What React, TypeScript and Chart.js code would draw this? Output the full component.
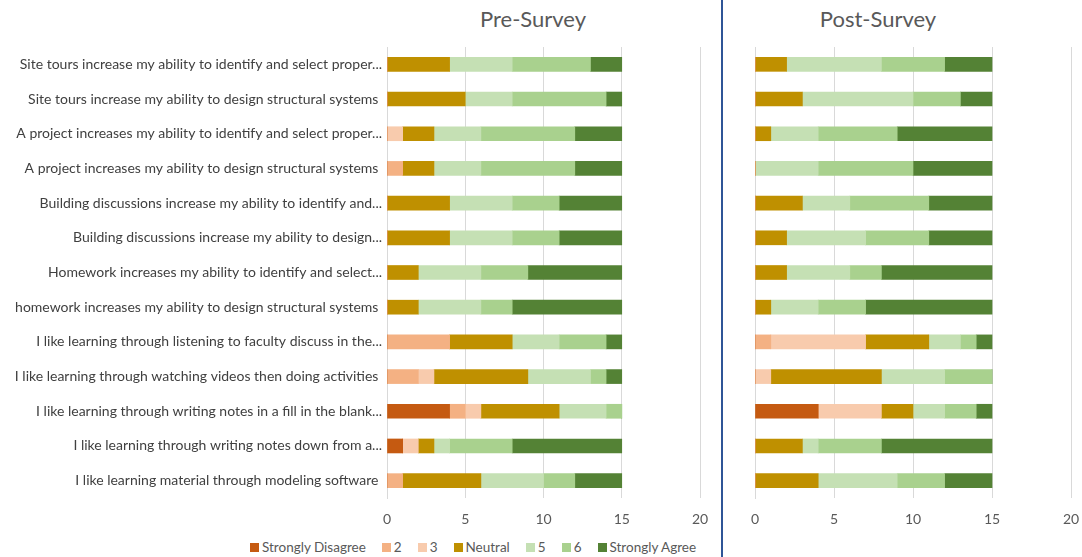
import React, { useEffect, useRef } from "react";
import { Chart, registerables } from "chart.js";

Chart.register(...registerables);

// Survey statements (long ones are shortened with an ellipsis)
const statements = [
  "Site tours increase my ability to identify and select proper...",
  "Site tours increase my ability to design structural systems ",
  "A project increases my ability to identify and select proper...",
  "A project increases my ability to design structural systems ",
  "Building discussions increase my ability to identify and...",
  "Building discussions increase my ability to design...",
  "Homework increases my ability to identify and select...",
  "homework increases my ability to design structural systems ",
  "I like learning through listening to faculty discuss in the...",
  "I like learning through watching videos then doing activities ",
  "I like learning through writing notes in a fill in the blank...",
  "I like learning through writing notes down from a...",
  "I like learning material through modeling software ",
];

const responseLevels = ["Strongly Disagree", "2", "3", "Neutral", "5", "6", "Strongly Agree"];
const levelColors = ["#C55A11", "#F4B183", "#F8CBAD", "#BF9000", "#C5E0B4", "#A9D18E", "#548235"];

const xTicks = [0, 5, 10, 15, 20];

// Pre-survey counts per response level
const preStronglyDisagree = [0, 0, 0, 0, 0, 0, 0, 0, 0, 0, 4, 1, 0];
const preTwo = [0, 0, 0, 1, 0, 0, 0, 0, 4, 2, 1, 0, 1];
const preThree = [0, 0, 1, 0, 0, 0, 0, 0, 0, 1, 1, 1, 0];
const preNeutral = [4, 5, 2, 2, 4, 4, 2, 2, 4, 6, 5, 1, 5];
const preFive = [4, 3, 3, 3, 4, 4, 4, 4, 3, 4, 3, 1, 4];
const preSix = [5, 6, 6, 6, 3, 3, 3, 2, 3, 1, 1, 4, 2];
const preStronglyAgree = [2, 1, 3, 3, 4, 4, 6, 7, 1, 1, 0, 7, 3];

// Post-survey counts per response level
const postStronglyDisagree = [0, 0, 0, 0, 0, 0, 0, 0, 0, 0, 4, 0, 0];
const postTwo = [0, 0, 0, 0, 0, 0, 0, 0, 1, 0, 0, 0, 0];
const postThree = [0, 0, 0, 0, 0, 0, 0, 0, 6, 1, 4, 0, 0];
const postNeutral = [2, 3, 1, 0, 3, 2, 2, 1, 4, 7, 2, 3, 4];
const postFive = [6, 7, 3, 4, 3, 5, 4, 3, 2, 4, 2, 1, 5];
const postSix = [4, 3, 5, 6, 5, 4, 2, 3, 1, 3, 2, 4, 3];
const postStronglyAgree = [3, 2, 6, 5, 4, 4, 7, 8, 1, 0, 1, 7, 3];

const preSeries = [preStronglyDisagree, preTwo, preThree, preNeutral, preFive, preSix, preStronglyAgree];
const postSeries = [postStronglyDisagree, postTwo, postThree, postNeutral, postFive, postSix, postStronglyAgree];

const FONT = "Lato, 'Open Sans', sans-serif";
const TEXT = "#595959";
const GRID = "#D9D9D9";

function buildConfig(series: number[][], showLabels: boolean, axisWidth: number, padRight: number): any {
  return {
    type: "bar",
    data: {
      labels: statements,
      datasets: series.map((values, i) => ({
        label: responseLevels[i],
        data: values,
        backgroundColor: levelColors[i],
        borderWidth: 0,
        barThickness: 14,
      })),
    },
    options: {
      indexAxis: "y",
      animation: false,
      responsive: false,
      maintainAspectRatio: false,
      layout: { padding: { top: 47, right: padRight, left: 0, bottom: 0 } },
      plugins: {
        legend: { display: false },
        title: { display: false },
        tooltip: { enabled: false },
      },
      scales: {
        x: {
          stacked: true,
          min: 0,
          max: 20,
          afterBuildTicks: (s: any) => {
            s.ticks = xTicks.map((v) => ({ value: v }));
          },
          afterFit: (s: any) => {
            s.height = 33;
            s.paddingLeft = 0;
            s.paddingRight = 0;
          },
          grid: { color: GRID, lineWidth: 1, drawTicks: false },
          border: { display: false },
          ticks: { color: TEXT, font: { family: FONT, size: 14 }, padding: 13 },
        },
        y: {
          stacked: true,
          afterFit: (s: any) => {
            s.width = axisWidth;
          },
          grid: { display: false, drawTicks: false },
          border: { display: true, color: GRID, width: 1 },
          ticks: {
            display: showLabels,
            color: "#404040",
            font: { family: FONT, size: 14 },
            padding: 5,
            autoSkip: false,
          },
        },
      },
    },
  };
}

function Panel(props: { series: number[][]; showLabels: boolean; left: number; width: number; axisWidth: number; padRight: number }) {
  const ref = useRef<HTMLCanvasElement>(null);
  useEffect(() => {
    if (!ref.current) return;
    const chart = new Chart(ref.current, buildConfig(props.series, props.showLabels, props.axisWidth, props.padRight));
    return () => chart.destroy();
  }, []);
  return (
    <canvas
      ref={ref}
      width={props.width}
      height={531}
      style={{ position: "absolute", left: props.left, top: 0, width: props.width, height: 531 }}
    />
  );
}

export default function App() {
  const titleStyle: React.CSSProperties = {
    position: "absolute",
    top: 5,
    fontFamily: FONT,
    fontSize: 22,
    color: TEXT,
    transform: "translateX(-50%)",
    whiteSpace: "nowrap",
  };
  return (
    <div style={{ position: "absolute", left: 0, top: 0, width: 1082, height: 557, background: "#fff", overflow: "hidden" }}>
      <div style={{ ...titleStyle, left: 533 }}>Pre-Survey</div>
      <div style={{ ...titleStyle, left: 878 }}>Post-Survey</div>
      <Panel series={preSeries} showLabels={true} left={0} width={715} axisWidth={387} padRight={15} />
      <Panel series={postSeries} showLabels={false} left={722} width={360} axisWidth={33} padRight={11} />
      <div style={{ position: "absolute", left: 721, top: 0, width: 2, height: 557, background: "#2F5597" }} />
      <div
        style={{
          position: "absolute",
          left: 250,
          top: 539,
          display: "flex",
          alignItems: "center",
          fontFamily: FONT,
          fontSize: 13.5,
          color: TEXT,
          whiteSpace: "nowrap",
        }}
      >
        {responseLevels.map((name, i) => (
          <div key={name} style={{ display: "flex", alignItems: "center", marginRight: 16 }}>
            <span style={{ display: "inline-block", width: 9, height: 9, background: levelColors[i], marginRight: 3 }} />
            <span>{name}</span>
          </div>
        ))}
      </div>
    </div>
  );
}
